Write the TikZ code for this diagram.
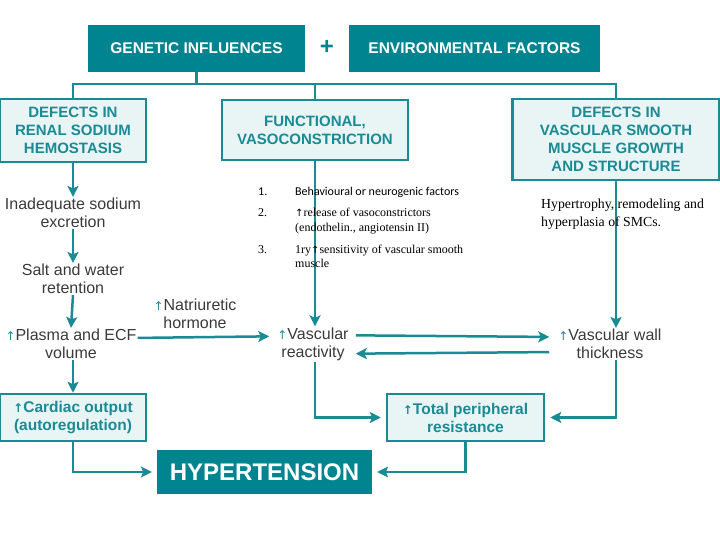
\documentclass[tikz,border=0pt]{standalone}
\usepackage{fontspec}
\setmainfont{Liberation Sans}
\newfontfamily\serifface{Liberation Serif}
\newfontfamily\listface{Carlito}
\newfontfamily\arrowface{DejaVu Sans}
\usetikzlibrary{arrows.meta,positioning}
\definecolor{tealdark}{RGB}{0,132,143}
\definecolor{tealline}{RGB}{26,138,148}
\definecolor{boxfill}{RGB}{233,244,245}
\definecolor{labelgray}{RGB}{58,58,58}
\newcommand{\upar}{{\color{tealline}\arrowface\fontsize{12}{12}\selectfont ↑}}
\newcommand{\serup}{{\arrowface\fontsize{10}{10}\selectfont ↑}}

\tikzset{
  titlebox/.style={fill=tealdark,text=white,font=\bfseries\fontsize{15.5}{18}\selectfont,minimum height=47pt,inner sep=0pt},
  defectbox/.style={draw=tealline,line width=2.5pt,fill=boxfill,text=tealline,font=\bfseries\fontsize{15}{18}\selectfont,align=center,inner sep=0pt},
  flowlabel/.style={text=labelgray,font=\fontsize{16}{18}\selectfont,align=center,inner sep=1pt},
  line/.style={draw=tealline,line width=2.5pt},
  arr/.style={line,-{Stealth[length=11pt,width=11pt,inset=2.5pt]}},
  listtext/.style={anchor=base west,inner sep=0pt,text=black},
}

\begin{document}
\begin{tikzpicture}[x=1pt,y=-1pt]
\useasboundingbox (0,0) rectangle (720,540);
% top row
\node[titlebox,minimum width=217pt] (gen) at (196.5,48.5) {GENETIC INFLUENCES};
\node[titlebox,minimum width=251pt] (env) at (474.5,48.5) {ENVIRONMENTAL FACTORS};
\node[text=tealdark,font=\bfseries\fontsize{24}{24}\selectfont] (plus) at (327,47) {+};
\coordinate (bus) at (0,84);
% defects
\node[defectbox,minimum width=146pt,minimum height=63pt] (renal) at (73,130.5) {DEFECTS IN\\RENAL SODIUM\\HEMOSTASIS};
\node[defectbox,minimum width=186pt,minimum height=60pt] (func) at (315,130) {FUNCTIONAL,\\VASOCONSTRICTION};
\node[defectbox,minimum width=207pt,minimum height=81pt] (vsm) at (616,139.5) {DEFECTS IN\\VASCULAR SMOOTH\\MUSCLE GROWTH\\AND STRUCTURE};
\draw[line] (gen.south) -- (gen.south |- bus);
\draw[line] (renal.north) -- (renal.north |- bus) -- (vsm.north |- bus) -- (vsm.north);
\draw[line] (func.north) -- (func.north |- bus);
% left column
\node[flowlabel] (inad) at (73,213) {Inadequate sodium\\excretion};
\node[flowlabel] (salt) at (73,279) {Salt and water\\retention};
\node[flowlabel] (plasma) at (71,344) {\upar Plasma and ECF\\volume};
\node[flowlabel] (natri) at (195,314) {\upar Natriuretic\\hormone};
\node[defectbox,minimum width=146pt,minimum height=47pt,font=\bfseries\fontsize{15.5}{18}\selectfont] (cardiac) at (73,417.5) {\upar Cardiac output\\(autoregulation)};
\draw[arr] (renal.south) -- (inad.north);
\draw[arr] (inad.south) -- (salt.north);
\draw[arr] (salt.south) -- (plasma.north);
\draw[arr] ([xshift=2pt]plasma.south) -- (cardiac.north);
% middle and right
\node[flowlabel] (vr) at (313,344) {\upar Vascular\\reactivity};
\node[flowlabel] (vwt) at (610,344) {\upar Vascular wall\\thickness};
\node[defectbox,minimum width=157pt,minimum height=47pt,font=\bfseries\fontsize{15.5}{18}\selectfont] (tpr) at (465.5,417.5) {\upar Total peripheral\\resistance};
\node[titlebox,minimum width=215pt,minimum height=44pt,font=\bfseries\fontsize{24}{24}\selectfont] (hyp) at (264.5,472) {HYPERTENSION};
\draw[arr] ([yshift=-10pt]plasma.north east) -- ([xshift=-7pt,yshift=-10pt]vr.north west);
\draw[arr] (func.south) -- (func.south |- vr.north);
\draw[arr] (vsm.south) -- (vsm.south |- vwt.north);
\draw[arr] ([xshift=6pt,yshift=-9pt]vr.north east) -- ([xshift=-8pt,yshift=-9pt]vwt.north west);
\draw[arr] ([xshift=-8pt,yshift=8pt]vwt.south west) -- ([xshift=6pt,yshift=8pt]vr.south east);
\draw[arr,shorten >=5pt] (func.south |- vr.south) |- (tpr.west);
\draw[arr,shorten >=5pt] (vsm.south |- vwt.south) |- (tpr.east);
\draw[arr,shorten >=5pt] (cardiac.south) |- (hyp.west);
\draw[arr,shorten >=5pt] (tpr.south) |- (hyp.east);
% notes (base of a multi-line node is its last line)
\node[listtext,font=\listface\fontsize{12}{14}\selectfont] (n1) at (258,196) {1.};
\node[listtext,font=\listface\fontsize{12}{14}\selectfont] (t1) at (295,196) {Behavioural or neurogenic factors};
\node[listtext,font=\serifface\fontsize{12}{14}\selectfont] (n2) at (258,217) {2.};
\node[listtext,font=\serifface\fontsize{12}{14}\selectfont,align=left] (t2) at (295,231) {\serup release of vasoconstrictors\\(endothelin., angiotensin II)};
\node[listtext,font=\serifface\fontsize{12}{14}\selectfont] (n3) at (258,253) {3.};
\node[listtext,font=\serifface\fontsize{12}{14}\selectfont,align=left] (t3) at (295,267) {1ry\serup sensitivity of vascular smooth\\muscle};
\node[listtext,font=\serifface\fontsize{13.8}{17.5}\selectfont,align=left] (hyper) at (541,226.5) {Hypertrophy, remodeling and\\hyperplasia of SMCs.};
\end{tikzpicture}
\end{document}
